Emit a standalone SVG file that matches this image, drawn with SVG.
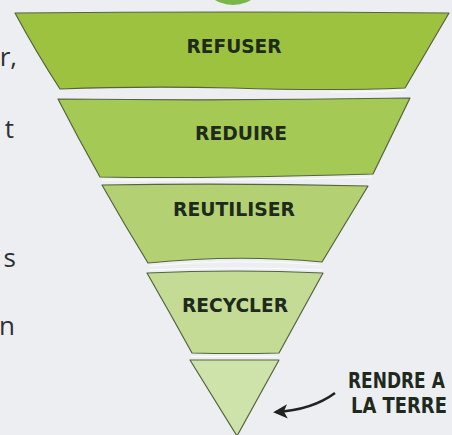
<svg xmlns="http://www.w3.org/2000/svg" width="452" height="435" viewBox="0 0 452 435">
  <defs>
    <style>
      .tier { stroke: #55643f; stroke-width: 1.2; stroke-linejoin: round; }
      .hl { fill: none; stroke: #ffffff; stroke-width: 1.2; opacity: 0.8; }
      .lbl { font-family: "DejaVu Sans Condensed", "Roboto Condensed", "DejaVu Sans", "Liberation Sans", sans-serif; font-weight: bold; font-size: 20px; fill: #1f2a1c; text-anchor: middle; }
      .side { font-family: "DejaVu Sans", "Liberation Sans", sans-serif; font-weight: bold; font-size: 21px; fill: #1f2a1c; }
      .body { font-family: "Open Sans", "Noto Sans", sans-serif; font-size: 26px; fill: #2e3035; text-anchor: end; }
    </style>
    <marker id="ah" viewBox="0 0 10 10" refX="8" refY="5" markerWidth="5.5" markerHeight="5.5" orient="auto-start-reverse">
      <path d="M0,0 L10,5 L0,10 L2.5,5 Z" fill="#222"/>
    </marker>
  </defs>
  <rect x="0" y="0" width="452" height="435" fill="#eceef2"/>

  <g id="circle">
    <circle cx="233" cy="-30" r="35" fill="#7ab648"/>
  </g>

  <g id="body-text">
    <text class="body" x="17" y="66">r,</text>
    <text class="body" x="14" y="138">t</text>
    <text class="body" x="16" y="267">s</text>
    <text class="body" x="15" y="335">n</text>
  </g>

  <g id="refuser">
    <path class="tier" fill="#9cc23f" d="M15,13 Q232,11 449,13 L405,88 Q330,91 232,88 Q140,86 60,89 Q36,52 15,13 Z"/>
    <path class="hl" d="M330,92 Q380,92 406,90"/>
    <text class="lbl" x="234" y="53" textLength="95" lengthAdjust="spacingAndGlyphs">REFUSER</text>
  </g>

  <g id="reduire">
    <path class="tier" fill="#a4c955" d="M58,99 Q234,101 410,98 L373,174 Q300,176 236,177 Q160,178 100,177 Q78,138 58,99 Z"/>
    <path class="hl" d="M102,180 Q240,181 372,177"/>
    <text class="lbl" x="241" y="140" textLength="92" lengthAdjust="spacingAndGlyphs">REDUIRE</text>
  </g>

  <g id="reutiliser">
    <path class="tier" fill="#b3d173" d="M102,185 Q236,183 368,186 L322,262 Q236,254 148,263 Q124,224 102,185 Z"/>
    <path class="hl" d="M150,266 Q236,258 320,265"/>
    <text class="lbl" x="234" y="216" textLength="122" lengthAdjust="spacingAndGlyphs">REUTILISER</text>
  </g>

  <g id="recycler">
    <path class="tier" fill="#c3db95" d="M147,273 Q236,269 323,273 L279,353 Q236,354 192,353 Q170,313 147,273 Z"/>
    <path class="hl" d="M149,270 Q236,266 322,270"/>
    <text class="lbl" x="235" y="312" textLength="106" lengthAdjust="spacingAndGlyphs">RECYCLER</text>
  </g>

  <g id="rendre-a-la-terre">
    <path class="tier" fill="#cde3aa" d="M190,360 L279,360 L237,436 Z"/>
    <path class="hl" d="M191,356.5 L278,356.5"/>
    <text class="side" transform="translate(348,388) scale(0.81,1)">RENDRE A</text>
    <text class="side" transform="translate(351,413) scale(0.855,1)">LA TERRE</text>
  </g>

  <g id="connectors">
    <path d="M335,393 Q312,410 276,412" fill="none" stroke="#222" stroke-width="2.6" marker-end="url(#ah)"/>
  </g>
</svg>
